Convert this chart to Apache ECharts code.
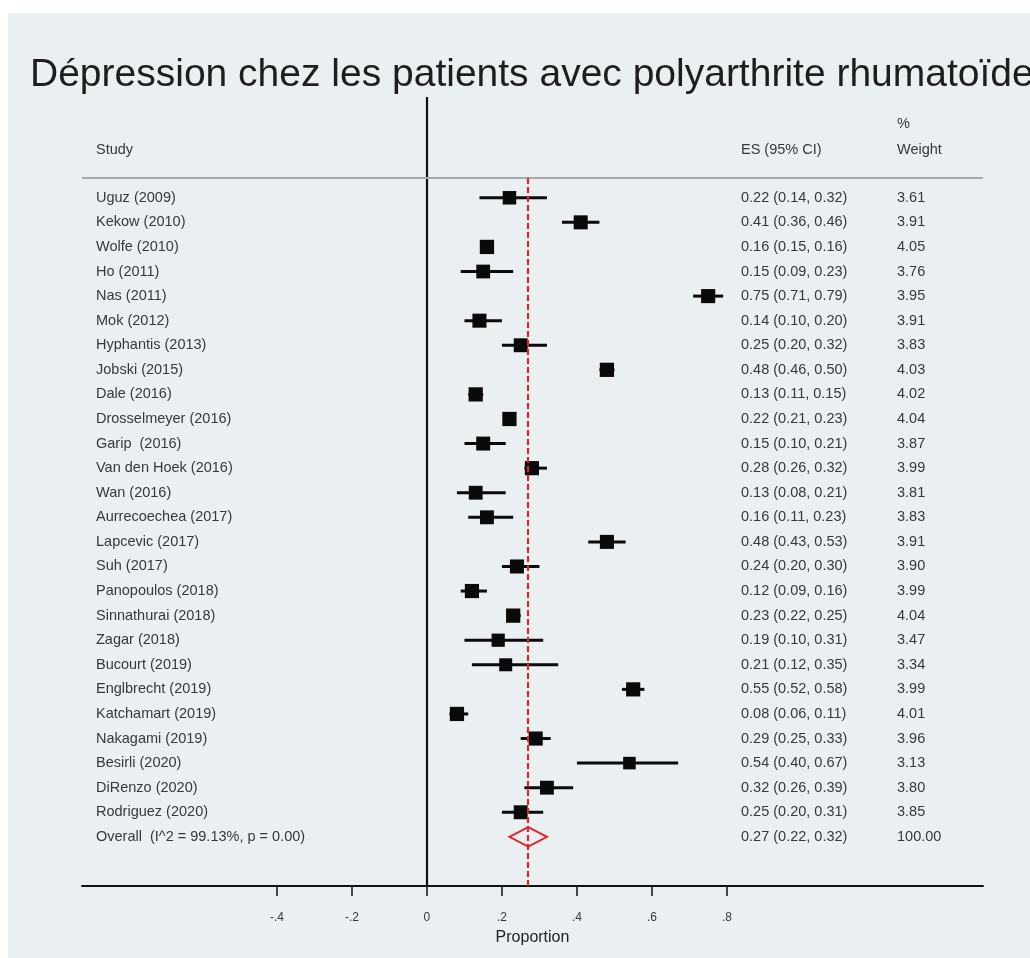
<!DOCTYPE html>
<html>
<head>
<meta charset="utf-8">
<script src="https://cdn.jsdelivr.net/npm/echarts@6/dist/echarts.min.js"></script>
<style>
  html, body { margin: 0; padding: 0; background: #ffffff; overflow: hidden; }
  #chart { position: absolute; left: 8px; top: 13px; width: 1022px; height: 945px; background: #eaeff2; }
</style>
</head>
<body>
<div id="chart"></div>
<script>
// Studies included in the meta-analysis (top to bottom)
const studies = [
  'Uguz (2009)', 'Kekow (2010)', 'Wolfe (2010)', 'Ho (2011)', 'Nas (2011)', 'Mok (2012)',
  'Hyphantis (2013)', 'Jobski (2015)', 'Dale (2016)', 'Drosselmeyer (2016)', 'Garip  (2016)',
  'Van den Hoek (2016)', 'Wan (2016)', 'Aurrecoechea (2017)', 'Lapcevic (2017)', 'Suh (2017)',
  'Panopoulos (2018)', 'Sinnathurai (2018)', 'Zagar (2018)', 'Bucourt (2019)', 'Englbrecht (2019)',
  'Katchamart (2019)', 'Nakagami (2019)', 'Besirli (2020)', 'DiRenzo (2020)', 'Rodriguez (2020)'
];
// Effect size (proportion) and 95% CI bounds
const es = [0.22, 0.41, 0.16, 0.15, 0.75, 0.14, 0.25, 0.48, 0.13, 0.22, 0.15, 0.28, 0.13,
            0.16, 0.48, 0.24, 0.12, 0.23, 0.19, 0.21, 0.55, 0.08, 0.29, 0.54, 0.32, 0.25];
const ciLow = [0.14, 0.36, 0.15, 0.09, 0.71, 0.10, 0.20, 0.46, 0.11, 0.21, 0.10, 0.26, 0.08,
               0.11, 0.43, 0.20, 0.09, 0.22, 0.10, 0.12, 0.52, 0.06, 0.25, 0.40, 0.26, 0.20];
const ciHigh = [0.32, 0.46, 0.16, 0.23, 0.79, 0.20, 0.32, 0.50, 0.15, 0.23, 0.21, 0.32, 0.21,
                0.23, 0.53, 0.30, 0.16, 0.25, 0.31, 0.35, 0.58, 0.11, 0.33, 0.67, 0.39, 0.31];
// Percentage weights
const weights = [3.61, 3.91, 4.05, 3.76, 3.95, 3.91, 3.83, 4.03, 4.02, 4.04, 3.87, 3.99, 3.81,
                 3.83, 3.91, 3.90, 3.99, 4.04, 3.47, 3.34, 3.99, 4.01, 3.96, 3.13, 3.80, 3.85];
// Pooled estimate
const overallLabel = 'Overall  (I^2 = 99.13%, p = 0.00)';
const overallES = 0.27;
const overallLow = 0.22;
const overallHigh = 0.32;
const overallWeight = 100.00;
// X axis tick values
const xTicks = [-0.4, -0.2, 0, 0.2, 0.4, 0.6, 0.8];

const nRows = studies.length;
const overallRow = nRows;
const fmt = v => v.toFixed(2);
const tickFmt = v => {
  if (Math.abs(v) < 1e-9) return '0';
  return (v < 0 ? '-' : '') + '.' + Math.round(Math.abs(v) * 10);
};

const TXT = '#383838';
const FONT = 'Liberation Sans, Arial, sans-serif';
const FS = 14.5;

// Table rows: [rowIndex, study label, ES text, weight text]
const tableRows = studies.map((s, i) => [i, s, fmt(es[i]) + ' (' + fmt(ciLow[i]) + ', ' + fmt(ciHigh[i]) + ')', weights[i].toFixed(2)]);
tableRows.push([overallRow, overallLabel, fmt(overallES) + ' (' + fmt(overallLow) + ', ' + fmt(overallHigh) + ')', overallWeight.toFixed(2)]);

// Column positions of the text table
const COL_STUDY = 88, COL_ES = 733, COL_W = 889;

const chart = echarts.init(document.getElementById('chart'), null, { renderer: 'canvas' });

chart.setOption({
  backgroundColor: '#eaeff2',
  animation: false,
  title: {
    text: 'Dépression chez les patients avec polyarthrite rhumatoïde',
    left: 17, top: 38,
    textStyle: { fontFamily: FONT, fontSize: 39, fontWeight: 'normal', color: '#1e1e1e' }
  },
  grid: { left: 74, right: 47, top: 84, bottom: 72 },
  xAxis: {
    type: 'value', min: -0.92, max: 1.483,
    splitLine: { show: false },
    axisLine: { show: true, onZero: false, lineStyle: { color: '#111', width: 2 } },
    axisTick: { show: true, customValues: xTicks, length: 10, lineStyle: { color: '#111', width: 1.5 } },
    axisLabel: { show: true, customValues: xTicks, formatter: tickFmt, margin: 26, fontFamily: FONT, fontSize: 12, color: TXT },
    name: 'Proportion', nameLocation: 'middle', nameGap: 44,
    nameTextStyle: { fontFamily: FONT, fontSize: 16, color: '#222' }
  },
  yAxis: {
    type: 'value', inverse: true, min: -4.1, max: 28, show: false
  },
  series: [
    {
      // table text: study, ES (95% CI), weight
      type: 'custom',
      silent: true,
      data: tableRows,
      renderItem: (params, api) => {
        const y = api.coord([0, api.value(0)])[1];
        const txt = (t, x) => ({ type: 'text', style: { text: t, x: x, y: y, textVerticalAlign: 'middle', fill: TXT, font: FS + 'px ' + FONT } });
        const row = tableRows[params.dataIndex];
        return { type: 'group', children: [txt(row[1], COL_STUDY), txt(row[2], COL_ES), txt(row[3], COL_W)] };
      },
      markLine: {
        silent: true, symbol: 'none', label: { show: false },
        data: [
          // zero reference line
          [{ coord: [0, -4.1], lineStyle: { color: '#111', width: 2.2, type: 'solid' } }, { coord: [0, 28] }],
          // header separator
          [{ coord: [-0.92, -0.8], lineStyle: { color: '#a6aaad', width: 1.8, type: 'solid' } }, { coord: [1.483, -0.8] }],
          // pooled estimate line
          [{ coord: [overallES, -0.8], lineStyle: { color: '#e0262a', width: 2.2, type: [6, 3] } }, { coord: [overallES, 28] }]
        ]
      }
    },
    {
      // column headers
      type: 'custom',
      silent: true,
      data: [[-1.95], [-3]],
      renderItem: (params, api) => {
        const d = params.dataIndex === 0 ? ['Study', 'ES (95% CI)', 'Weight'] : ['', '', '%'];
        const y = api.coord([0, api.value(0)])[1];
        const txt = (t, x) => ({ type: 'text', style: { text: t, x: x, y: y, textVerticalAlign: 'middle', fill: TXT, font: FS + 'px ' + FONT } });
        return { type: 'group', children: [txt(d[0], COL_STUDY), txt(d[1], COL_ES), txt(d[2], COL_W)] };
      }
    },
    {
      // confidence intervals
      type: 'custom',
      silent: true,
      data: studies.map((s, i) => [i, ciLow[i], ciHigh[i]]),
      renderItem: (params, api) => {
        const p1 = api.coord([api.value(1), api.value(0)]);
        const p2 = api.coord([api.value(2), api.value(0)]);
        return { type: 'line', shape: { x1: p1[0], y1: p1[1], x2: p2[0], y2: p2[1] }, style: { stroke: '#0a0a0a', lineWidth: 3 } };
      },
      z: 3
    },
    {
      // point estimates, box area proportional to weight
      type: 'scatter',
      silent: true,
      symbol: 'rect',
      data: studies.map((s, i) => [es[i], i, weights[i]]),
      symbolSize: v => 7.1 * Math.sqrt(v[2]),
      itemStyle: { color: '#0a0a0a', opacity: 1 },
      z: 4
    },
    {
      // pooled estimate diamond
      type: 'custom',
      silent: true,
      data: [[overallRow, overallLow, overallES, overallHigh]],
      renderItem: (params, api) => {
        const r = api.value(0);
        const pts = [
          api.coord([api.value(1), r]),
          api.coord([api.value(2), r - 0.4]),
          api.coord([api.value(3), r]),
          api.coord([api.value(2), r + 0.4])
        ];
        return { type: 'polygon', shape: { points: pts }, style: { fill: 'none', stroke: '#e0262a', lineWidth: 2 } };
      },
      z: 5
    }
  ]
});
</script>
</body>
</html>
